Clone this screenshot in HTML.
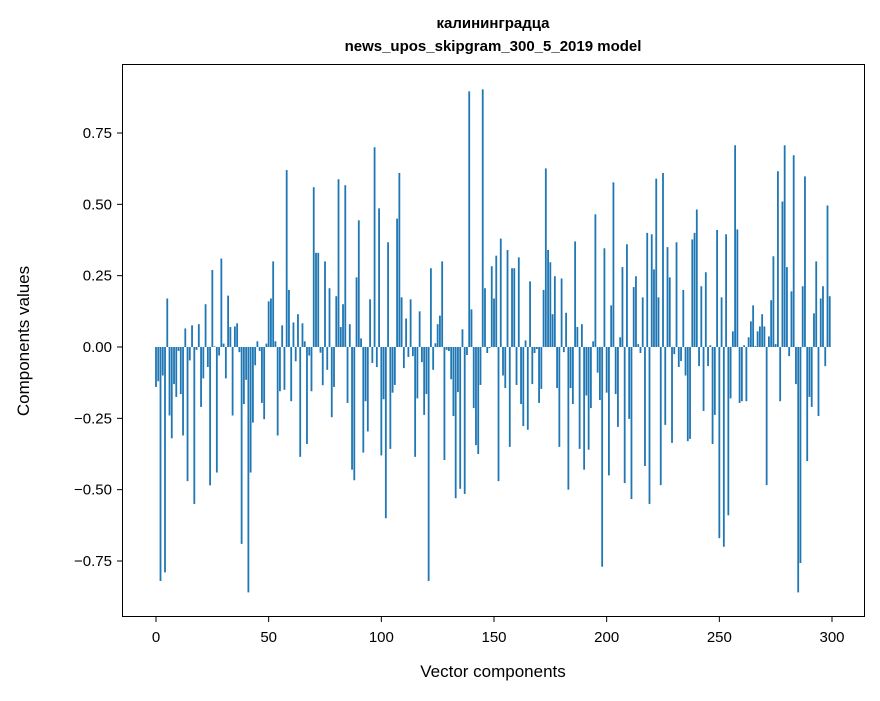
<!DOCTYPE html>
<html><head><meta charset="utf-8"><style>
body{margin:0;background:#fff;}
svg text{font-family:"Liberation Sans","DejaVu Sans",sans-serif;fill:#000;}
</style></head><body>
<svg id="chart" width="880" height="696" xmlns="http://www.w3.org/2000/svg">
<rect x="0" y="0" width="880" height="696" fill="#fff"/>
<text x="493" y="28" text-anchor="middle" font-size="15" font-weight="bold">калининградца</text>
<text x="493" y="51" text-anchor="middle" font-size="15" font-weight="bold">news_upos_skipgram_300_5_2019 model</text>
<g id="bars"></g>
<rect x="122.5" y="64.5" width="742" height="552" fill="none" stroke="#000" stroke-width="1"/>
<g id="xticks"></g>
<g id="yticks"></g>
<text x="493" y="677" text-anchor="middle" font-size="17">Vector components</text>
<text x="29" y="341" text-anchor="middle" font-size="17" transform="rotate(-90 29 341)">Components values</text>
</svg>
<script>
const values = [
-0.14,-0.12,-0.82,-0.10,-0.79,0.17,-0.24,-0.32,-0.13,-0.175,
-0.014,-0.165,-0.31,0.065,-0.47,-0.047,0.076,-0.55,-0.01,0.08,
-0.21,-0.11,0.15,-0.07,-0.485,0.27,0.002,-0.44,-0.03,0.31,
0.012,-0.11,0.18,0.07,-0.24,0.072,0.083,-0.018,-0.69,-0.2,
-0.115,-0.86,-0.44,-0.265,-0.064,0.02,-0.014,-0.196,-0.253,0.012,
0.16,0.17,0.30,0.02,-0.31,-0.155,0.076,-0.15,0.62,0.2,
-0.19,0.086,-0.05,0.115,-0.385,0.083,0.02,-0.34,-0.03,-0.155,
0.56,0.33,0.33,-0.02,-0.134,0.30,-0.08,0.206,-0.246,-0.14,
0.178,0.588,0.07,0.15,0.567,-0.196,0.08,-0.43,-0.467,0.244,
0.444,0.03,-0.37,-0.19,-0.296,0.167,-0.056,0.70,-0.07,0.486,
-0.38,-0.183,-0.6,0.367,-0.357,-0.16,-0.133,0.45,0.61,0.174,
-0.074,0.1,-0.035,0.167,-0.032,-0.385,-0.18,0.125,-0.053,-0.238,
-0.165,-0.82,0.276,-0.08,0.013,0.08,0.11,0.30,-0.396,-0.01,
-0.014,-0.113,-0.242,-0.53,-0.158,-0.497,0.062,-0.515,-0.028,0.896,
0.132,-0.214,-0.344,-0.375,-0.133,0.903,0.206,-0.021,-0.004,0.283,
0.17,0.32,-0.47,0.38,-0.1,-0.144,0.34,-0.35,0.276,0.276,
-0.133,0.314,-0.2,-0.277,0.023,-0.29,0.23,-0.13,-0.021,-0.007,
-0.196,-0.147,0.2,0.626,0.34,0.297,0.115,0.248,-0.144,-0.35,
0.24,-0.018,0.12,-0.5,-0.144,-0.2,0.37,0.07,-0.357,0.08,
-0.43,-0.17,-0.36,-0.214,0.02,0.465,-0.09,-0.186,-0.77,0.346,
-0.16,-0.45,0.146,0.577,-0.165,-0.28,0.034,0.28,-0.477,0.36,
-0.252,-0.533,0.21,0.248,0.01,-0.021,0.174,-0.417,0.4,-0.55,
0.395,0.272,0.59,0.174,-0.484,0.61,-0.273,0.35,0.244,-0.336,
-0.025,0.367,-0.07,-0.049,0.2,-0.1,-0.33,-0.322,0.377,0.4,
0.482,-0.067,0.213,-0.224,0.262,-0.067,0.006,-0.34,-0.238,0.41,
-0.67,0.174,-0.70,0.395,-0.59,-0.18,0.055,0.707,0.412,-0.196,
-0.19,0.006,-0.19,0.034,0.09,0.146,0.003,0.055,0.072,0.115,
0.072,-0.484,0.037,0.164,0.318,0.01,0.616,-0.19,0.51,0.707,
0.28,-0.032,0.195,0.672,-0.13,-0.86,-0.757,0.213,0.598,-0.4,
-0.175,-0.21,0.118,0.3,-0.242,0.17,0.213,-0.067,0.496,0.178
];
const xTickLabels = ["0","50","100","150","200","250","300"];
const yTickLabels = ["−0.75","−0.50","−0.25","0.00","0.25","0.50","0.75"];
const yTickValues = [-0.75,-0.5,-0.25,0,0.25,0.5,0.75];
const xTickValues = [0,50,100,150,200,250,300];

const NS = "http://www.w3.org/2000/svg";
function xs(v){ return 156 + v * (676/300); }
function ys(v){ return 347 - v * (214/0.75); }
const barG = document.getElementById('bars');
values.forEach((v,i)=>{
  const r = document.createElementNS(NS,'rect');
  const w = 0.8*(676/300);
  const y0 = ys(0), y1 = ys(v);
  r.setAttribute('x', xs(i) - w/2);
  r.setAttribute('y', Math.min(y0,y1));
  r.setAttribute('width', w);
  r.setAttribute('height', Math.max(Math.abs(y1-y0),0.3));
  r.setAttribute('fill','#1f77b4');
  
  
  barG.appendChild(r);
});
const xg = document.getElementById('xticks');
xTickValues.forEach((v,i)=>{
  const l = document.createElementNS(NS,'line');
  l.setAttribute('x1',xs(v)); l.setAttribute('x2',xs(v));
  l.setAttribute('y1',617); l.setAttribute('y2',622);
  l.setAttribute('stroke','#000');
  
  
  xg.appendChild(l);
  const t = document.createElementNS(NS,'text');
  t.setAttribute('x',xs(v)); t.setAttribute('y',642);
  t.setAttribute('text-anchor','middle'); t.setAttribute('font-size','15');
  t.textContent = xTickLabels[i];
  
  
  xg.appendChild(t);
});
const yg = document.getElementById('yticks');
yTickValues.forEach((v,i)=>{
  const l = document.createElementNS(NS,'line');
  l.setAttribute('x1',117); l.setAttribute('x2',122);
  l.setAttribute('y1',ys(v)); l.setAttribute('y2',ys(v));
  l.setAttribute('stroke','#000');
  
  
  yg.appendChild(l);
  const t = document.createElementNS(NS,'text');
  t.setAttribute('x',112); t.setAttribute('y',ys(v)+5);
  t.setAttribute('text-anchor','end'); t.setAttribute('font-size','15');
  t.textContent = yTickLabels[i];
  
  
  yg.appendChild(t);
});
</script>
</body></html>
